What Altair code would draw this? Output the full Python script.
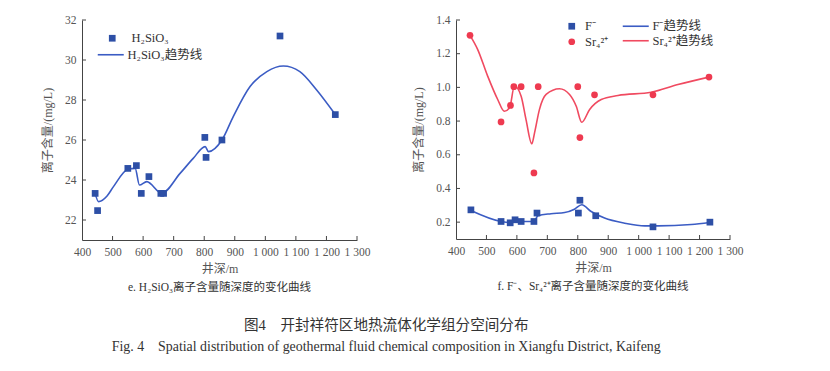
import altair as alt
import pandas as pd

FONT = "Liberation Serif, Noto Sans CJK SC"
BLUE_PT = "#2d4fa6"
BLUE_LN = "#3b5cc4"
RED_PT = "#ee3a50"
RED_LN = "#f04a60"
AXIS_C = "#444444"
TEXT_C = "#555555"

# ---------------- left panel data (H2SiO3) ----------------
si_depth = [443, 451, 550, 578, 594, 619, 658, 667, 802, 806, 858, 1048, 1229]
si_value = [23.33, 22.47, 24.58, 24.72, 23.33, 24.17, 23.33, 23.33, 26.13, 25.13, 26.0, 31.2, 27.27]
si_trend_depth = [443, 454, 482, 503, 552, 574, 588, 612, 661, 721, 764, 803, 814, 858, 895, 950, 1005, 1059, 1113, 1168, 1229]
si_trend_value = [23.33, 22.92, 23.2, 23.67, 24.55, 24.58, 23.75, 23.92, 23.34, 24.33, 25.08, 25.67, 25.42, 26.0, 27.17, 28.67, 29.42, 29.7, 29.42, 28.5, 27.27]

# ---------------- right panel data (F-, Sr) ----------------
f_depth = [449, 548, 578, 594, 614, 656, 666, 802, 807, 859, 1047, 1234]
f_value = [0.273, 0.204, 0.196, 0.214, 0.204, 0.204, 0.254, 0.254, 0.330, 0.238, 0.172, 0.200]
sr_depth = [446, 548, 579, 590, 614, 656, 670, 800, 807, 855, 1047, 1231]
sr_value = [1.309, 0.795, 0.893, 1.004, 1.004, 0.492, 1.004, 1.004, 0.702, 0.956, 0.956, 1.061]
f_trend_depth = [449, 548, 581, 594, 614, 656, 669, 712, 757, 789, 813, 844, 888, 954, 1020, 1063, 1173, 1234]
f_trend_value = [0.269, 0.204, 0.198, 0.214, 0.204, 0.204, 0.238, 0.250, 0.257, 0.277, 0.303, 0.263, 0.224, 0.194, 0.178, 0.178, 0.186, 0.198]
sr_trend_depth = [446, 471, 504, 537, 559, 576, 592, 614, 630, 649, 658, 674, 696, 740, 773, 795, 813, 839, 877, 932, 1041, 1129, 1231]
sr_trend_value = [1.309, 1.226, 1.067, 0.928, 0.858, 0.879, 1.008, 0.948, 0.809, 0.665, 0.73, 0.868, 0.958, 0.992, 0.958, 0.888, 0.793, 0.869, 0.928, 0.952, 0.971, 1.017, 1.061]

x_ticks = [500, 600, 700, 800, 900, 1000, 1100, 1200, 1300]
x_labels = [400] + x_ticks
left_y_ticks = [22, 24, 26, 28, 30, 32]
right_y_ticks = [0.2, 0.4, 0.6, 0.8, 1.0, 1.2, 1.4]

S_H2SIO3 = "H₂SiO₃"
S_H2SIO3_T = "H₂SiO₃趋势线"
S_F = "F⁻"
S_SR = "Sr₄²⁺"
S_F_T = "F⁻趋势线"
S_SR_T = "Sr₄²⁺趋势线"

X_TITLE = "井深/m"
Y_TITLE = "离子含量/(mg/L)"

LW, LH = 275, 220
RW, RH = 274, 219

LINE_SYMBOL = "M-2.6,0H2.6"

x_label_expr = "datum.value >= 1000 ? replace(format(datum.value, ','), ',', ' ') : datum.label"


def x_enc(field):
    axis = alt.Axis(
        title=X_TITLE, values=x_labels, labelExpr=x_label_expr, ticks=False,
        tickSize=0, labelPadding=6, titlePadding=6, grid=False, labelOverlap=False,
        labelFlush=False,
    )
    return alt.X(f"{field}:Q", scale=alt.Scale(domain=[400, 1300], nice=False, zero=False), axis=axis)


def y_enc(field, domain, values, fmt):
    axis = alt.Axis(
        title=Y_TITLE, values=values, format=fmt, ticks=False, tickSize=0,
        labelPadding=6, titlePadding=10, grid=False, labelOverlap=False,
        labelFlush=False,
    )
    return alt.Y(f"{field}:Q", scale=alt.Scale(domain=domain, nice=False, zero=False), axis=axis)


def tick_layers(domain, yvals, fmt, height):
    ydf = pd.DataFrame({"depth": [400] * len(yvals), "value": yvals})
    xdf = pd.DataFrame({"depth": x_ticks, "value": [domain[0]] * len(x_ticks)})
    yt = alt.Chart(ydf).mark_rule(color=AXIS_C, strokeWidth=1).encode(
        y=y_enc("value", domain, yvals, fmt),
        x=alt.value(0), x2=alt.value(4),
    )
    xt = alt.Chart(xdf).mark_rule(color=AXIS_C, strokeWidth=1).encode(
        x=x_enc("depth"),
        y=alt.value(height), y2=alt.value(height - 4),
    )
    return yt, xt


def leg(x, y, **kw):
    base = dict(title=None, orient="none", legendX=x, legendY=y, padding=0,
                labelFontSize=12.5, labelFont=FONT, labelColor="#333", symbolOpacity=1)
    base.update(kw)
    return alt.Legend(**base)


# ---------------- left panel ----------------
si_pts = pd.DataFrame({"depth": si_depth, "value": si_value, "series": [S_H2SIO3] * len(si_depth)})
si_tr = pd.DataFrame({"depth": si_trend_depth, "value": si_trend_value, "series": [S_H2SIO3_T] * len(si_trend_depth)})
L_DOM = [21, 32]

left_line = alt.Chart(si_tr).mark_line(interpolate="monotone", strokeWidth=1.6).encode(
    x=x_enc("depth"),
    y=y_enc("value", L_DOM, left_y_ticks, "d"),
    stroke=alt.Stroke("series:N", scale=alt.Scale(domain=[S_H2SIO3_T], range=[BLUE_LN]),
                      legend=leg(22.5, 28.5, symbolType=LINE_SYMBOL, symbolSize=100,
                                 symbolStrokeWidth=1.6, labelOffset=10.5)),
)
left_pts = alt.Chart(si_pts).mark_point(filled=True, shape="square", size=45, opacity=1).encode(
    x=x_enc("depth"),
    y=y_enc("value", L_DOM, left_y_ticks, "d"),
    fill=alt.Fill("series:N", scale=alt.Scale(domain=[S_H2SIO3], range=[BLUE_PT]),
                  legend=leg(24, 12, symbolType="square", symbolSize=45, labelOffset=13)),
)
lyt, lxt = tick_layers(L_DOM, left_y_ticks, "d", LH)
left = alt.layer(left_line, left_pts, lyt, lxt).properties(
    width=LW, height=LH,
    title=alt.TitleParams(
        "e. H₂SiO₃离子含量随深度的变化曲线", orient="bottom", anchor="middle", frame="group",
        offset=7, fontSize=11.5, font=FONT, fontWeight="normal", color="#333",
    ),
)

# ---------------- right panel ----------------
R_DOM = [0.1, 1.4]
r_pts = pd.DataFrame({
    "depth": f_depth + sr_depth,
    "value": f_value + sr_value,
    "series": [S_F] * len(f_depth) + [S_SR] * len(sr_depth),
})
r_tr = pd.DataFrame({
    "depth": f_trend_depth + sr_trend_depth,
    "value": f_trend_value + sr_trend_value,
    "series": [S_F_T] * len(f_trend_depth) + [S_SR_T] * len(sr_trend_depth),
})

right_line = alt.Chart(r_tr).mark_line(interpolate="monotone", strokeWidth=1.6).encode(
    x=x_enc("depth"),
    y=y_enc("value", R_DOM, right_y_ticks, ".1f"),
    stroke=alt.Stroke("series:N", scale=alt.Scale(domain=[S_F_T, S_SR_T], range=[BLUE_LN, RED_LN]),
                      legend=leg(173.5, 0, symbolType=LINE_SYMBOL, symbolSize=100,
                                 symbolStrokeWidth=1.6, labelOffset=10.5, rowPadding=1.5)),
)
pt_leg = leg(109.5, 0, symbolSize=45, labelOffset=7, rowPadding=1.5)
right_pts = alt.Chart(r_pts).mark_point(filled=True, size=45, opacity=1).encode(
    x=x_enc("depth"),
    y=y_enc("value", R_DOM, right_y_ticks, ".1f"),
    fill=alt.Fill("series:N", scale=alt.Scale(domain=[S_F, S_SR], range=[BLUE_PT, RED_PT]),
                  legend=pt_leg),
    shape=alt.Shape("series:N", scale=alt.Scale(domain=[S_F, S_SR], range=["square", "circle"]),
                    legend=pt_leg),
)
ryt, rxt = tick_layers(R_DOM, right_y_ticks, ".1f", RH)
right = alt.layer(right_line, right_pts, ryt, rxt).properties(
    width=RW, height=RH,
    title=alt.TitleParams(
        "f. F⁻、Sr₄²⁺离子含量随深度的变化曲线", orient="bottom", anchor="middle", frame="group",
        offset=7, fontSize=11.5, font=FONT, fontWeight="normal", color="#333",
    ),
)

chart = alt.hconcat(left, right, spacing=42).resolve_scale(
    fill="independent", stroke="independent", shape="independent",
).resolve_legend(
    fill="independent", stroke="independent", shape="independent",
).properties(
    padding={"left": 33, "top": 6, "right": 5, "bottom": 5},
    title=alt.TitleParams(
        text="图4　开封祥符区地热流体化学组分空间分布",
        subtitle="Fig. 4　Spatial distribution of geothermal fluid chemical composition in Xiangfu District, Kaifeng",
        orient="bottom", anchor="middle", offset=25, fontSize=14.6, subtitleFontSize=13.9,
        font=FONT, subtitleFont=FONT, fontWeight="normal", color="#333", subtitleColor="#333",
        subtitlePadding=7, dx=-6,
    ),
).configure_view(stroke=None).configure_axis(
    labelFont=FONT, titleFont=FONT, labelFontSize=11.5, titleFontSize=12,
    labelColor=TEXT_C, titleColor=TEXT_C, titleFontWeight="normal",
    domainColor=AXIS_C, domainWidth=1,
)

chart.save("out.html", embed_options={"renderer": "svg", "actions": False})
